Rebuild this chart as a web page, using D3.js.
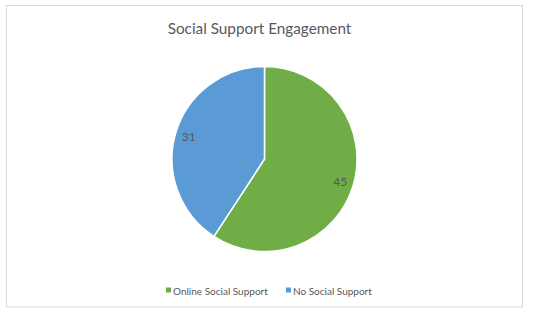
<!DOCTYPE html>
<html>
<head>
<meta charset="utf-8">
<script src="https://cdn.jsdelivr.net/npm/d3@7"></script>
<style>
    body { margin: 0; background: #fff; }
    text { font-family: Lato, "Open Sans", sans-serif; fill: #595959; }
</style>
</head>
<body>
<div id="chart"></div>
<script>
const categories = ['Online Social Support', 'No Social Support'];
const values = [45, 31];
const colors = ['#70AD47', '#5B9BD5'];
const chartTitle = 'Social Support Engagement';

const width = 533, height = 316;
const cx = 264.5, cy = 159, radius = 92.5;

const svg = d3.select('#chart')
    .append('svg')
    .attr('width', width)
    .attr('height', height);

// chart frame
svg.append('rect')
    .attr('x', 6.5)
    .attr('y', 5.5)
    .attr('width', 516)
    .attr('height', 301.5)
    .attr('fill', '#fff')
    .attr('stroke', '#d9d9d9');

svg.append('text')
    .attr('x', cx - 5)
    .attr('y', 28)
    .attr('text-anchor', 'middle')
    .attr('dominant-baseline', 'central')
    .style('font-size', '15.3px')
    .text(chartTitle);

let pie = d3.pie().sort(null).value(d => d);
let arc = d3.arc().innerRadius(0).outerRadius(radius);
let labelArc = d3.arc().innerRadius(79).outerRadius(79);

let g = svg.append('g').attr('transform', `translate(${cx},${cy})`);

g.selectAll('path')
    .data(pie(values))
    .enter()
    .append('path')
    .attr('d', arc)
    .attr('fill', (d, i) => colors[i])
    .attr('stroke', '#fff')
    .attr('stroke-width', 1.5);

g.selectAll('text')
    .data(pie(values))
    .enter()
    .append('text')
    .attr('transform', d => `translate(${labelArc.centroid(d)})`)
    .attr('text-anchor', 'middle')
    .attr('dominant-baseline', 'central')
    .style('font-size', '12px')
    .text(d => d.data);

// legend
const legendX = [166, 286];
let legend = svg.selectAll('.legend')
    .data(categories)
    .enter()
    .append('g')
    .attr('class', 'legend')
    .attr('transform', (d, i) => `translate(${legendX[i]},290)`);

legend.append('rect')
    .attr('x', 0)
    .attr('y', -2.5)
    .attr('width', 5)
    .attr('height', 5)
    .attr('fill', (d, i) => colors[i]);

legend.append('text')
    .attr('x', 7)
    .attr('y', 0.5)
    .attr('dominant-baseline', 'central')
    .style('font-size', '10px')
    .text(d => d);
</script>
</body>
</html>
